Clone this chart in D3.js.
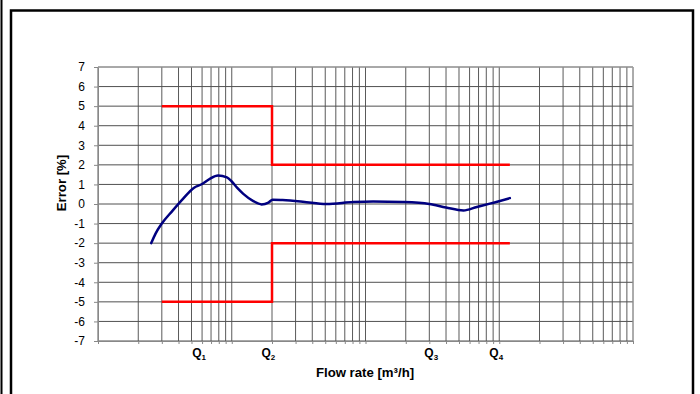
<!DOCTYPE html>
<html>
<head>
<meta charset="utf-8">
<script src="https://cdn.jsdelivr.net/npm/d3@7"></script>
<style>
  body { margin: 0; background: #fff; }
  text { font-family: "Liberation Sans", Arial, sans-serif; }
</style>
</head>
<body>
<div id="chart"></div>
<script>
'use strict';

// measured curve (flow rate in m3/h, error in %)
const flow = [0.0025, 0.0027, 0.003, 0.0036, 0.0043, 0.0052, 0.006, 0.0069, 0.0079, 0.0092,
    0.01, 0.011, 0.0122, 0.0145, 0.0167, 0.0188, 0.0202, 0.024, 0.034, 0.051, 0.081,
    0.114, 0.19, 0.3, 0.4, 0.54, 0.68, 0.85, 1.2]
const error = [-2.0, -1.5, -1.0, -0.35, 0.25, 0.82, 1.02, 1.3, 1.45, 1.36,
    1.15, 0.82, 0.52, 0.15, -0.02, 0.07, 0.22, 0.2, 0.12, 0.0, 0.1,
    0.13, 0.1, 0.0, -0.18, -0.33, -0.15, 0.02, 0.3]

// max permissible error limits
const limitFlow = [0.003, 0.02, 0.02, 1.2]
const upperLimit = [5, 5, 2, 2]
const lowerLimit = [-5, -5, -2, -2]

// named flow points
const qLabels = ['1', '2', '3', '4']
const qValues = [0.0057, 0.0188, 0.31, 0.95]

const yTicks = d3.range(-7, 8)

let margin = { top: 67, right: 67, bottom: 53, left: 98 },
    width = 700 - margin.left - margin.right,
    height = 394 - margin.top - margin.bottom;

let root = d3.select("#chart")
    .append("svg")
    .attr("width", 700)
    .attr("height", 394)

// outer frame
root.append("line")
    .attr("x1", 1.5).attr("x2", 1.5).attr("y1", 0).attr("y2", 394)
    .attr("stroke", "#000").attr("stroke-width", 2)
root.append("rect")
    .attr("x", 11).attr("y", 10.5)
    .attr("width", 682).attr("height", 400)
    .attr("fill", "none")
    .attr("stroke", "#000")
    .attr("stroke-width", 2.5)

let svg = root.append("g")
    .attr("transform", `translate(${margin.left}, ${margin.top})`)

let xScale = d3.scaleLog()
    .domain([0.001, 10])
    .range([0, width])

let yScale = d3.scaleLinear()
    .domain([-7, 7])
    .range([height, 0])

// every 1..9 per decade
let gridValues = []
for (let e = -3; e < 1; e++) {
    for (let k = 1; k < 10; k++) gridValues.push(+(k * Math.pow(10, e)).toPrecision(3))
}
gridValues.push(10)

svg.append("g")
    .selectAll("line")
    .data(gridValues)
    .join("line")
    .attr("x1", d => xScale(d))
    .attr("x2", d => xScale(d))
    .attr("y1", 0)
    .attr("y2", height)
    .attr("stroke", "#5a5a5a")
    .attr("stroke-width", 1)

svg.append("g")
    .selectAll("line")
    .data(yTicks)
    .join("line")
    .attr("x1", 0)
    .attr("x2", width)
    .attr("y1", d => yScale(d))
    .attr("y2", d => yScale(d))
    .attr("stroke", "#505050")
    .attr("stroke-width", 1)

let yAxis = svg.append("g")
    .call(d3.axisLeft(yScale)
        .tickValues(yTicks)
        .tickSize(4)
        .tickPadding(9)
        .tickFormat(d => String(d)))
yAxis.selectAll("text")
    .attr("font-size", 12)
    .attr("fill", "#000")
    .style("font-family", "'Liberation Sans', Arial, sans-serif")
yAxis.selectAll("line, path").attr("stroke", "#888")

let xAxis = svg.append("g")
    .attr("transform", `translate(0, ${height})`)
    .call(d3.axisBottom(xScale)
        .tickValues(gridValues)
        .tickSize(3)
        .tickSizeOuter(0)
        .tickFormat(""))
xAxis.selectAll("line, path").attr("stroke", "#888")

// top and right edge of plot area
svg.append("path")
    .attr("d", `M0,0H${width}V${height}`)
    .attr("fill", "none")
    .attr("stroke", "#aaa")

// Q labels
let qText = svg.append("g")
    .selectAll("text")
    .data(qValues)
    .join("text")
    .attr("x", d => xScale(d))
    .attr("y", height + 16)
    .attr("text-anchor", "middle")
    .attr("font-size", 12)
    .attr("font-weight", "bold")
qText.append("tspan").text("Q")
qText.append("tspan")
    .attr("dy", 3)
    .attr("font-size", 8)
    .text((d, i) => qLabels[i])

svg.append("text")
    .attr("x", 267)
    .attr("y", height + 36)
    .attr("text-anchor", "middle")
    .attr("font-size", 13.2)
    .attr("font-weight", "bold")
    .text("Flow rate [m\u00b3/h]")

svg.append("text")
    .attr("transform", `translate(-32, ${116}) rotate(-90)`)
    .attr("text-anchor", "middle")
    .attr("font-size", 13.2)
    .attr("font-weight", "bold")
    .text("Error [%]")

// limit lines
let limitLine = d3.line()
    .x(d => xScale(d[0]))
    .y(d => yScale(d[1]))

for (let lim of [upperLimit, lowerLimit]) {
    svg.append("path")
        .datum(limitFlow.map((f, i) => [f, lim[i]]))
        .attr("fill", "none")
        .attr("stroke", "#ff0000")
        .attr("stroke-width", 2.5)
        .attr("d", limitLine)
}

// error curve
svg.append("path")
    .datum(flow.map((f, i) => [f, error[i]]))
    .attr("fill", "none")
    .attr("stroke", "#000080")
    .attr("stroke-width", 2.5)
    .attr("stroke-linecap", "round")
    .attr("d", d3.line()
        .x(d => xScale(d[0]))
        .y(d => yScale(d[1]))
        .curve(d3.curveMonotoneX))
</script>
</body>
</html>
